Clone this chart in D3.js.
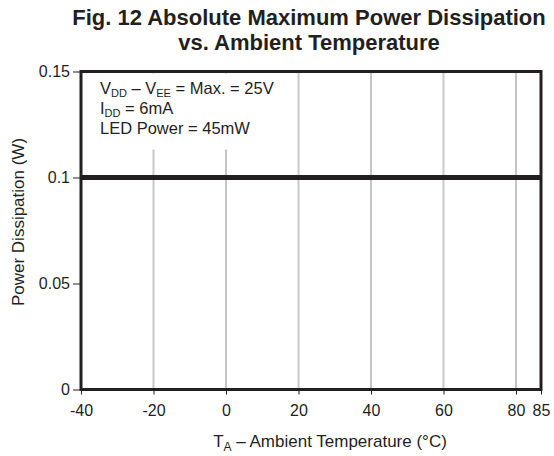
<!DOCTYPE html>
<html><head><meta charset="utf-8">
<script src="https://cdn.jsdelivr.net/npm/d3@7"></script>
<style>body{margin:0;background:#fff}svg{display:block;font-family:"Liberation Sans",Arial,sans-serif}</style>
</head><body><svg id="c" width="554" height="456"></svg>
<script>
const titleLines = ["Fig. 12 Absolute Maximum Power Dissipation", "vs. Ambient Temperature"];
const xTicks = [-40, -20, 0, 20, 40, 60, 80, 85];
const yTicks = [0, 0.05, 0.1, 0.15];
const yTickLabels = ["0", "0.05", "0.1", "0.15"];
const gridDark = [0, 40, 80];
const gridLight = [-20, 20, 60];
const temps = [-40, 85];
const power = [0.1, 0.1];

const svg = d3.select("#c");
const L = 81, R = 541, T = 71.5, B = 389.5;
const x = d3.scaleLinear().domain([-40, 80, 85]).range([L, 516, R]);
const y = d3.scaleLinear().domain([0, 0.15]).range([B, T]);
const ink = "#231f20";

// title
svg.append("g").selectAll("text").data(titleLines).join("text")
  .attr("x", 309).attr("y", (d, i) => 25 + i * 25)
  .attr("text-anchor", "middle").attr("font-weight", "bold").attr("font-size", 22)
  .attr("fill", ink).text(d => d);

// grid
svg.append("g").selectAll("line").data(gridLight).join("line")
  .attr("x1", d => x(d)).attr("x2", d => x(d)).attr("y1", y(0)).attr("y2", y(0.15))
  .attr("stroke", "#c8c8c8").attr("stroke-width", 2);
svg.append("g").selectAll("line").data(gridDark).join("line")
  .attr("x1", d => x(d)).attr("x2", d => x(d)).attr("y1", y(0)).attr("y2", y(0.15))
  .attr("stroke", "#8a8a8a").attr("stroke-width", 1);

// annotation background
svg.append("rect").attr("x", L + 2).attr("y", T + 2).attr("width", 205).attr("height", 76).attr("fill", "#fff");
const ann = svg.append("g").attr("font-size", 16.5).attr("fill", ink);
function sub(t, s) { t.append("tspan").attr("font-size", 11).attr("dy", 3).text(s); }
let t1 = ann.append("text").attr("x", 100).attr("y", 94);
t1.append("tspan").text("V"); sub(t1, "DD");
t1.append("tspan").attr("dy", -3).text(" – V"); sub(t1, "EE");
t1.append("tspan").attr("dy", -3).text(" = Max. = 25V");
let t2 = ann.append("text").attr("x", 100).attr("y", 114);
t2.append("tspan").text("I"); sub(t2, "DD");
t2.append("tspan").attr("dy", -3).text(" = 6mA");
ann.append("text").attr("x", 100).attr("y", 134).text("LED Power = 45mW");

// data line
svg.append("path").datum(temps.map((t, i) => [t, power[i]]))
  .attr("d", d3.line().x(d => x(d[0])).y(d => y(d[1])))
  .attr("stroke", ink).attr("stroke-width", 5).attr("fill", "none");

// axes
const xAxis = svg.append("g").attr("transform", `translate(0,${B})`)
  .call(d3.axisBottom(x).tickValues(xTicks).tickFormat(d => String(d)).tickSize(5).tickPadding(10));
const yAxis = svg.append("g").attr("transform", `translate(${L},0)`)
  .call(d3.axisLeft(y).tickValues(yTicks).tickFormat((d, i) => yTickLabels[i]).tickSize(8).tickPadding(3));
[xAxis, yAxis].forEach(a => {
  a.select(".domain").remove();
  a.selectAll("line").attr("stroke", ink).attr("stroke-width", 1);
  a.selectAll("text").attr("font-size", 16).attr("fill", ink).attr("font-family", "Liberation Sans, Arial, sans-serif");
});

// frame
svg.append("rect").attr("x", L).attr("y", T).attr("width", R - L).attr("height", B - T)
  .attr("fill", "none").attr("stroke", ink).attr("stroke-width", 3);

// axis labels
const xl = svg.append("text").attr("x", 330).attr("y", 447).attr("text-anchor", "middle")
  .attr("font-size", 17).attr("fill", ink);
xl.append("tspan").text("T"); xl.append("tspan").attr("font-size", 12).attr("dy", 4).text("A");
xl.append("tspan").attr("dy", -4).text(" – Ambient Temperature (°C)");

svg.append("text").attr("transform", "translate(24,222) rotate(-90)").attr("text-anchor", "middle")
  .attr("font-size", 17).attr("fill", ink).text("Power Dissipation (W)");
</script></body></html>
